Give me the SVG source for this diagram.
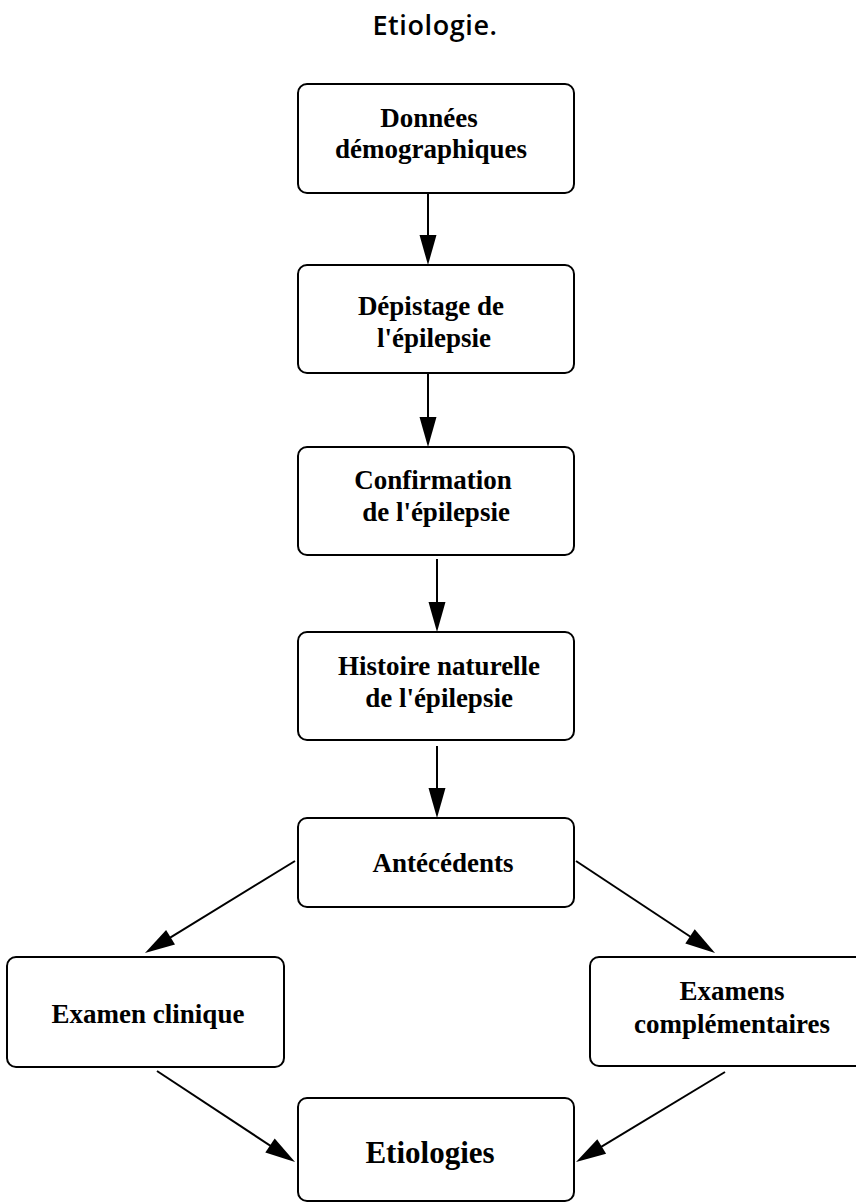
<svg xmlns="http://www.w3.org/2000/svg" width="856" height="1203" viewBox="0 0 856 1203">
  <style>
    .box { fill: #ffffff; stroke: #000000; stroke-width: 2; }
    .lbl { font-family: "Liberation Serif", "Times New Roman", serif; font-weight: bold; font-size: 27px; fill: #000000; text-anchor: middle; }
    .big { font-size: 31px; }
    .title { font-family: "Open Sans", "Liberation Sans", sans-serif; font-weight: 600; font-size: 27px; letter-spacing: 0.6px; fill: #000000; text-anchor: middle; }
    .edge { stroke: #000000; stroke-width: 2; fill: none; marker-end: url(#head); }
  </style>
  <defs>
    <marker id="head" markerUnits="userSpaceOnUse" markerWidth="30" markerHeight="18" refX="20" refY="8.5" orient="auto" overflow="visible">
      <path d="M0,0 L30,8.5 L0,17 Z" fill="#000000"/>
    </marker>
  </defs>

  <rect width="856" height="1203" fill="#ffffff"/>

  <text class="title" x="435" y="35">Etiologie.</text>

  <g id="connectors">
    <line class="edge" x1="428" y1="193" x2="428" y2="255"/>
    <line class="edge" x1="428" y1="374" x2="428" y2="437"/>
    <line class="edge" x1="437" y1="559" x2="437" y2="622"/>
    <line class="edge" x1="437" y1="746" x2="437" y2="808"/>
    <line class="edge" x1="295" y1="861" x2="153.5" y2="947.8"/>
    <line class="edge" x1="576" y1="861" x2="706.7" y2="947.5"/>
    <line class="edge" x1="157" y1="1071" x2="286.7" y2="1156.5"/>
    <line class="edge" x1="725" y1="1072" x2="584.6" y2="1156.8"/>
  </g>

  <g id="demographie">
    <rect class="box" x="298" y="84" width="276" height="109" rx="9"/>
    <text class="lbl" x="429" y="127">Données</text>
    <text class="lbl" x="431" y="158">démographiques</text>
  </g>

  <g id="depistage">
    <rect class="box" x="298" y="265" width="276" height="108" rx="9"/>
    <text class="lbl" x="431" y="315">Dépistage de</text>
    <text class="lbl" x="434" y="347">l'épilepsie</text>
  </g>

  <g id="confirmation">
    <rect class="box" x="298" y="447" width="276" height="108" rx="9"/>
    <text class="lbl" x="433" y="489">Confirmation</text>
    <text class="lbl" x="436" y="521">de l'épilepsie</text>
  </g>

  <g id="histoire">
    <rect class="box" x="298" y="632" width="276" height="108" rx="9"/>
    <text class="lbl" x="439" y="675">Histoire naturelle</text>
    <text class="lbl" x="439" y="707">de l'épilepsie</text>
  </g>

  <g id="antecedents">
    <rect class="box" x="298" y="818" width="276" height="89" rx="9"/>
    <text class="lbl" x="443" y="872">Antécédents</text>
  </g>

  <g id="examen-clinique">
    <rect class="box" x="7" y="957" width="277" height="110" rx="9"/>
    <text class="lbl" x="148" y="1023">Examen clinique</text>
  </g>

  <g id="examens-complementaires">
    <rect class="box" x="590" y="957" width="275" height="109" rx="9"/>
    <text class="lbl" x="732" y="1000">Examens</text>
    <text class="lbl" x="732" y="1033">complémentaires</text>
  </g>

  <g id="etiologies">
    <rect class="box" x="298" y="1098" width="276" height="103" rx="9"/>
    <text class="lbl big" x="430" y="1163">Etiologies</text>
  </g>
</svg>
